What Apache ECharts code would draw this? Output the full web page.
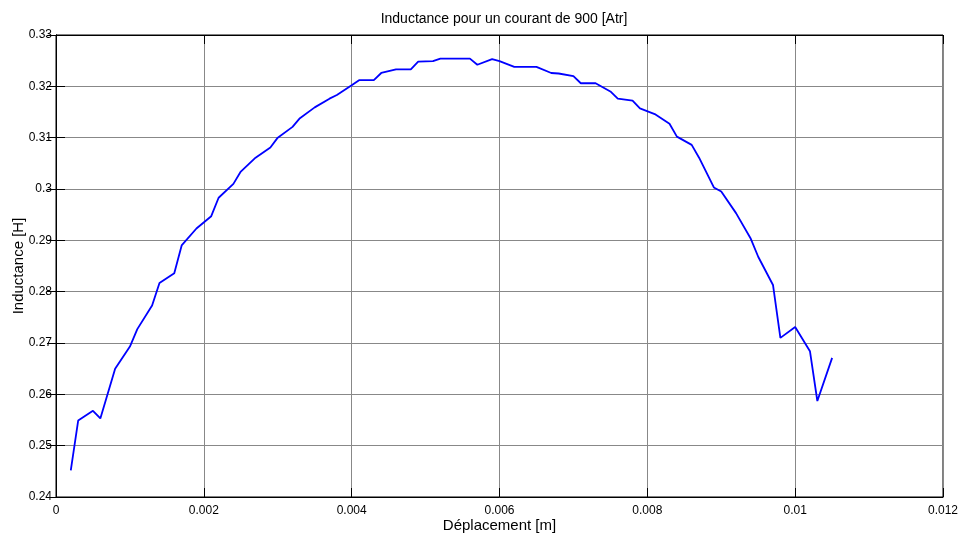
<!DOCTYPE html>
<html>
<head>
<meta charset="utf-8">
<script src="https://cdn.jsdelivr.net/npm/echarts@6/dist/echarts.min.js"></script>
<style>
	html, body { margin: 0; padding: 0; background: #fff; }
	#chart { width: 958px; height: 537px; }
</style>
</head>
<body>
<div id="chart"></div>
<script>
// déplacement [m]
var deplacement = [0.0002, 0.0003, 0.0005, 0.0006, 0.0008, 0.0010, 0.0011, 0.0013, 0.0014, 0.0016,
	0.0017, 0.0019, 0.0021, 0.0022, 0.0024, 0.0025, 0.0027, 0.0029, 0.0030, 0.0032,
	0.0033, 0.0035, 0.0037, 0.0038, 0.0040, 0.0041, 0.0043, 0.0044, 0.0046, 0.0048,
	0.0049, 0.0051, 0.0052, 0.0056, 0.0057, 0.0059, 0.0060, 0.0062, 0.0065, 0.0067,
	0.0068, 0.0070, 0.0071, 0.0073, 0.0075, 0.0076, 0.0078, 0.0079, 0.0081, 0.0083,
	0.0084, 0.0086, 0.0087, 0.0089, 0.0090, 0.0092, 0.0094, 0.0095, 0.0097, 0.0098,
	0.0100, 0.0102, 0.0103, 0.0105]
// inductance [H]
var inductance = [0.2452, 0.2549, 0.2568, 0.2553, 0.2650, 0.2693, 0.2727, 0.2773, 0.2817, 0.2836,
	0.2890, 0.2923, 0.2947, 0.2983, 0.3010, 0.3034, 0.3061, 0.3081, 0.3100, 0.3121,
	0.3138, 0.3159, 0.3176, 0.3183, 0.3202, 0.3212, 0.3212, 0.3226, 0.3233, 0.3233,
	0.3248, 0.3249, 0.3254, 0.3254, 0.3242, 0.3253, 0.3249, 0.3238, 0.3238, 0.3226,
	0.3225, 0.3220, 0.3206, 0.3206, 0.3190, 0.3176, 0.3172, 0.3157, 0.3146, 0.3127,
	0.3102, 0.3086, 0.3061, 0.3003, 0.2995, 0.2953, 0.2903, 0.2868, 0.2813, 0.2710,
	0.2731, 0.2684, 0.2587, 0.2671]

var xMin = 0, xMax = 0.012, xStep = 0.002
var yMin = 0.24, yMax = 0.33, yStep = 0.01

var font = "'Liberation Sans Narrow', 'Liberation Sans', Arial, sans-serif"
var tickFont = "'Liberation Sans', Arial, sans-serif"

var points = []
for (let i = 0; i < deplacement.length; i++) {
	points.push([deplacement[i], inductance[i]])
}

var myChart = echarts.init(document.getElementById('chart'))
var option = {
	animation: false,
	backgroundColor: '#fff',
	title: {
		text: 'Inductance pour un courant de 900 [Atr]',
		left: 499,
		textAlign: 'center',
		top: 7,
		textStyle: { fontFamily: font, fontSize: 14, fontWeight: 'normal', color: '#000' }
	},
	grid: {
		left: 56, right: 15, top: 35, bottom: 40,
		outerBoundsMode: 'none',
		containLabel: false,
		show: true, borderColor: '#000', borderWidth: 1
	},
	xAxis: [{
		type: 'value',
		min: xMin, max: xMax, interval: xStep,
		name: 'Déplacement [m]',
		nameLocation: 'middle',
		nameGap: 21,
		nameMoveOverlap: false,
		nameTextStyle: { fontFamily: font, fontSize: 15, color: '#000' },
		axisLine: { lineStyle: { color: '#000' } },
		axisTick: { inside: true, length: 9, lineStyle: { color: '#000' } },
		axisLabel: { fontFamily: tickFont, fontSize: 12, color: '#000', margin: 8 },
		splitLine: { lineStyle: { color: '#888', width: 1 } }
	}, {
		type: 'value', position: 'top',
		min: xMin, max: xMax, interval: xStep,
		axisLine: { lineStyle: { color: '#000' } },
		axisTick: { inside: true, length: 9, lineStyle: { color: '#000' } },
		axisLabel: { show: false },
		splitLine: { show: false }
	}],
	yAxis: [{
		type: 'value',
		min: yMin, max: yMax, interval: yStep,
		name: 'Inductance [H]',
		nameLocation: 'middle',
		nameGap: 30,
		nameMoveOverlap: false,
		nameTextStyle: { fontFamily: font, fontSize: 15, color: '#000' },
		axisLine: { show: true, lineStyle: { color: '#000' } },
		axisTick: { show: true, inside: true, length: 9, lineStyle: { color: '#000' } },
		axisLabel: { fontFamily: tickFont, fontSize: 12, color: '#000', margin: 4 },
		splitLine: { lineStyle: { color: '#888', width: 1 } }
	}, {
		type: 'value', position: 'right',
		min: yMin, max: yMax, interval: yStep,
		axisLine: { show: true, lineStyle: { color: '#000' } },
		axisTick: { show: true, inside: true, length: 9, lineStyle: { color: '#000' } },
		axisLabel: { show: false },
		splitLine: { show: false }
	}],
	series: [{
		type: 'line',
		data: points,
		showSymbol: false,
		lineStyle: { color: '#0000ff', width: 1.8 },
		itemStyle: { color: '#0000ff' }
	}]
}
myChart.setOption(option)
</script>
</body>
</html>
